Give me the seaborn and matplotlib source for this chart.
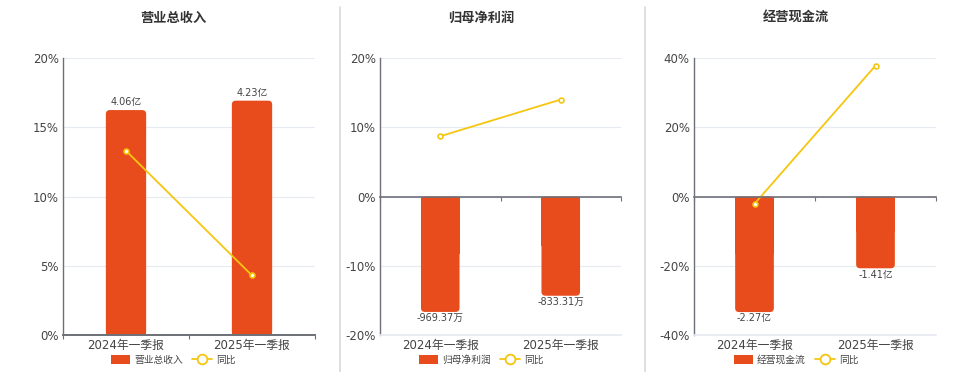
import numpy as np
import pandas as pd
import seaborn as sns
import matplotlib.pyplot as plt
from matplotlib.patches import Patch, FancyBboxPatch
from matplotlib.lines import Line2D

# data
categories = ['2024年一季报', '2025年一季报']

revenue = [4.06, 4.23]            # 亿
revenue_yoy = [13.3, 4.3]         # %
profit = [-969.37, -833.31]       # 万
profit_yoy = [8.7, 14.0]
cashflow = [-2.27, -1.41]         # 亿
cashflow_yoy = [-2.1, 37.8]

titles = ['营业总收入', '归母净利润', '经营现金流']
bar_labels = [['4.06亿', '4.23亿'], ['-969.37万', '-833.31万'], ['-2.27亿', '-1.41亿']]

sns.set_theme(style='white')
plt.rcParams['font.family'] = ['DejaVu Sans', 'Noto Sans CJK SC']

BAR = '#E84C1D'
LINE = '#F5C60F'
GRID = '#E6EAF2'
AXIS = '#6E7079'
TXT = '#444444'

fig = plt.figure(figsize=(9.6, 3.72), dpi=100)

W, H = 960, 372
# axes boxes in pixels: left, right, top, bottom
boxes = [(63, 315, 58, 335), (380, 621, 58, 335), (694, 936, 58, 335)]
centers = [173, 481, 796]

panels = [
    (revenue, revenue_yoy, (0, 5), (0, 20), [0, 5, 10, 15, 20]),
    (profit, profit_yoy, (-1163, 1163), (-20, 20), [-20, -10, 0, 10, 20]),
    (cashflow, cashflow_yoy, (-2.72, 2.72), (-40, 40), [-40, -20, 0, 20, 40]),
]


def round_bars(ax, radius_px=4):
    # swap the square bar tips for rounded ones
    fig.canvas.draw()
    inv = ax.transData.inverted()
    p0 = inv.transform((0, 0))
    p1 = inv.transform((1, 1))
    dx, dy = p1[0] - p0[0], p1[1] - p0[1]
    for rect in list(ax.patches):
        x, y = rect.get_x(), rect.get_y()
        w, h = rect.get_width(), rect.get_height()
        y0, hh = (y, h) if h >= 0 else (y + h, -h)
        r = radius_px * dx
        fb = FancyBboxPatch((x, y0), w, hh,
                            boxstyle=f'round,pad=0,rounding_size={r}',
                            mutation_aspect=dy / dx,
                            facecolor=BAR, edgecolor='none', lw=0, zorder=2)
        ax.add_patch(fb)
        # keep the base square
        rect.set_height(h / 2)


for i, (vals, yoy, blim, plim, pticks) in enumerate(panels):
    l, r, t, b = boxes[i]
    ax = fig.add_axes([l / W, 1 - b / H, (r - l) / W, (b - t) / H])

    df = pd.DataFrame({'period': categories, 'value': vals, 'yoy': yoy})
    sns.barplot(data=df, x='period', y='value', color=BAR, width=0.32,
                saturation=1, edgecolor='none', linewidth=0, ax=ax, zorder=2)
    ax.set_ylim(*blim)
    ax.set_xlim(-0.5, 1.5)
    ax.set_yticks(np.linspace(blim[0], blim[1], 5))
    ax.set_yticklabels([])
    ax.yaxis.grid(True, color=GRID, lw=0.8, zorder=0)
    ax.set_axisbelow(True)
    ax.tick_params(axis='y', length=0)
    ax.tick_params(axis='x', which='both', length=0, labelsize=8.5, labelcolor=TXT, pad=3)
    ax.set_xlabel('')
    ax.set_ylabel('')
    for s in ['top', 'right']:
        ax.spines[s].set_visible(False)
    ax.spines['left'].set_color(AXIS)
    ax.spines['left'].set_linewidth(1)
    ax.spines['bottom'].set_color(GRID if blim[0] < 0 else AXIS)

    round_bars(ax)

    # value labels
    for j, v in enumerate(vals):
        if v >= 0:
            ax.annotate(bar_labels[i][j], (j, v), xytext=(0, 2), textcoords='offset points',
                        ha='center', va='bottom', fontsize=7, color=TXT)
        else:
            ax.annotate(bar_labels[i][j], (j, v), xytext=(0, -1), textcoords='offset points',
                        ha='center', va='top', fontsize=7, color=TXT)

    # yoy line on the percentage axis
    ax2 = ax.twinx()
    sns.pointplot(data=df, x='period', y='yoy', color=LINE, markers='o',
                  linestyles='-', markersize=3.5, linewidth=1.3, markerfacecolor='white',
                  markeredgewidth=1.2, errorbar=None, ax=ax2)
    ax2.set_xlim(-0.5, 1.5)
    ax2.set_ylim(*plim)
    ax2.set_yticks(pticks)
    ax2.set_yticklabels([f'{p}%' for p in pticks])
    ax2.yaxis.tick_left()
    ax2.tick_params(axis='y', length=0, labelsize=8.5, labelcolor=TXT, pad=3)
    ax2.set_xlabel('')
    ax2.set_ylabel('')
    for s in ax2.spines.values():
        s.set_visible(False)

    # category axis line at zero, with small boundary ticks
    ax2.xaxis.set_visible(True)
    ax2.spines['bottom'].set_visible(True)
    ax2.spines['bottom'].set_position(('data', 0))
    ax2.spines['bottom'].set_color(AXIS)
    ax2.spines['bottom'].set_linewidth(1.2)
    ax2.spines['bottom'].set_zorder(3)
    ax2.set_xticks([-0.5, 0.5, 1.5], minor=True)
    ax2.tick_params(axis='x', which='major', length=0, labelbottom=False)
    ax2.tick_params(axis='x', which='minor', bottom=True, length=3, width=0.8,
                    color=AXIS, direction='out')

    fig.text(centers[i] / W, 1 - 18 / H, titles[i], ha='center', va='center',
             fontsize=9.5, fontweight='bold', color='#333333')

    handles = [Patch(facecolor=BAR, edgecolor='none'),
               Line2D([], [], color=LINE, lw=1.3, marker='o', markersize=7,
                      markerfacecolor='white', markeredgewidth=1.3)]
    fig.legend(handles, [titles[i], '同比'], loc='center',
               bbox_to_anchor=(centers[i] / W, 1 - 360 / H), ncol=2, frameon=False,
               fontsize=7, handlelength=2.0, handleheight=1.0, handletextpad=0.4,
               columnspacing=1.0, labelcolor=TXT)

# panel separators
for x in [339.5, 645]:
    fig.add_artist(Line2D([x / W, x / W], [0, 1 - 7 / H], color='#D9D9D9', lw=1.2))

fig.savefig('out.png', dpi=100)
